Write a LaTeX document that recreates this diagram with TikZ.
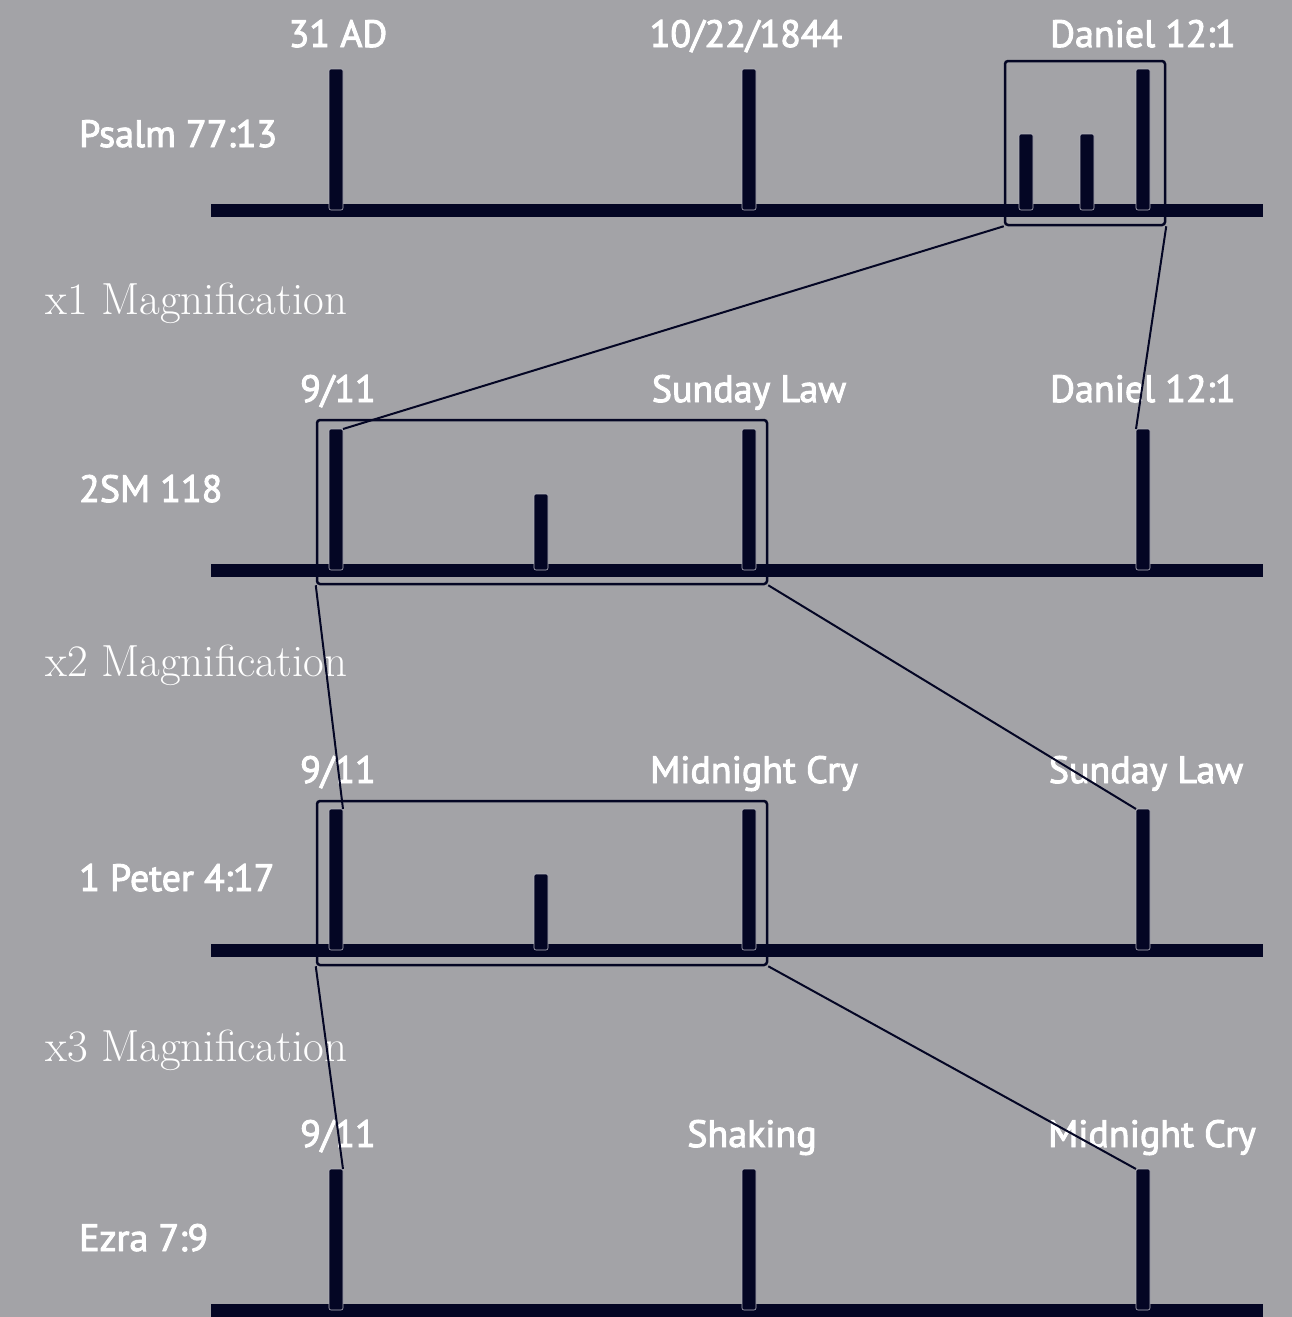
\documentclass[tikz,border=0pt]{standalone}
\usepackage{fontspec}
\setmainfont[FakeBold=2.5]{PT Sans}
\newfontfamily\magfont{Latin Modern Roman}
\usetikzlibrary{positioning}
\definecolor{navy}{RGB}{4,6,36}
\definecolor{slate}{RGB}{163,163,167}
\definecolor{rim}{RGB}{180,180,190}
\tikzstyle{axis} = [line width=13pt, draw=navy]
\tikzstyle{tick} = [rectangle, anchor=south, inner sep=0pt, outer sep=0pt, minimum width=14pt, fill=navy, draw=rim, line width=0.6pt, rounded corners=2pt]
\tikzstyle{tall} = [tick, minimum height=141pt]
\tikzstyle{short} = [tick, minimum height=76pt]
\tikzstyle{zoombox} = [rectangle, inner sep=0pt, draw=navy, line width=2.5pt, rounded corners=3pt]
\tikzstyle{link} = [draw=navy, line width=2pt]
\tikzstyle{date} = [anchor=base, text=white, font=\fontsize{38}{44}\selectfont]
\tikzstyle{verse} = [anchor=base west, text=white, inner sep=0pt, font=\fontsize{38}{44}\selectfont]
\tikzstyle{mag} = [anchor=base west, text=white, inner sep=0pt, font=\magfont\fontsize{45}{50}\selectfont]

\begin{document}
\begin{tikzpicture}[x=1pt, y=-1pt]
\useasboundingbox[fill=slate] (0,0) rectangle (1292,1317);

\draw [axis] (211,210) -- (1263,210);
\node (a1) [tall] at (336,210) {};
\node (b1) [tall] at (749,210) {};
\node (c1) [short] at (1026,210) {};
\node (d1) [short] at (1087,210) {};
\node (e1) [tall] at (1143,210) {};
\node (box1) [zoombox, minimum width=160pt, minimum height=164pt] at (1085,143) {};
\node [date] at (338,47) {31 AD};
\node [date] at (746,47) {10/22/1844};
\node [date] at (1143,47) {Daniel 12:1};
\node [verse] at (79,147) {Psalm 77:13};
\node [mag] at (45,314) {x1 Magnification};

\draw [axis] (211,570) -- (1263,570);
\node (a2) [tall] at (336,570) {};
\node (b2) [short] at (541,570) {};
\node (c2) [tall] at (749,570) {};
\node (e2) [tall] at (1143,570) {};
\node (box2) [zoombox, minimum width=450pt, minimum height=164pt] at (542,502) {};
\node [date] at (338,402) {9/11};
\node [date] at (749,402) {Sunday Law};
\node [date] at (1143,402) {Daniel 12:1};
\node [verse] at (79,502) {2SM 118};
\node [mag] at (45,676) {x2 Magnification};

\draw [axis] (211,950) -- (1263,950);
\node (a3) [tall] at (336,950) {};
\node (b3) [short] at (541,950) {};
\node (c3) [tall] at (749,950) {};
\node (e3) [tall] at (1143,950) {};
\node (box3) [zoombox, minimum width=450pt, minimum height=164pt] at (542,883) {};
\node [date] at (338,783) {9/11};
\node [date] at (754,783) {Midnight Cry};
\node [date] at (1146,783) {Sunday Law};
\node [verse] at (79,891) {1 Peter 4:17};
\node [mag] at (45,1061) {x3 Magnification};

\draw [axis] (211,1310) -- (1263,1310);
\node (a4) [tall] at (336,1310) {};
\node (c4) [tall] at (749,1310) {};
\node (e4) [tall] at (1143,1310) {};
\node [date] at (338,1147) {9/11};
\node [date] at (752,1147) {Shaking};
\node [date] at (1152,1147) {Midnight Cry};
\node [verse] at (79,1251) {Ezra 7:9};

\draw [link] (box1.south west) -- (a2.north east);
\draw [link] (box1.south east) -- (e2.north west);
\draw [link] (box2.south west) -- (a3.north east);
\draw [link] (box2.south east) -- (e3.north west);
\draw [link] (box3.south west) -- (a4.north east);
\draw [link] (box3.south east) -- (e4.north west);
\end{tikzpicture}
\end{document}
